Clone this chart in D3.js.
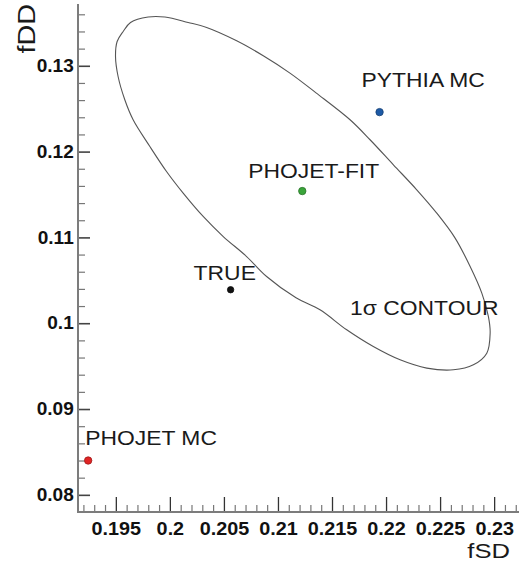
<!DOCTYPE html>
<html>
<head>
<meta charset="utf-8">
<script src="https://cdn.jsdelivr.net/npm/d3@7"></script>
<style>
  html, body { margin: 0; padding: 0; background: #fff; }
  svg { display: block; }
  text { font-family: "Liberation Sans", Arial, Helvetica, sans-serif; fill: #1a1a1a; }
</style>
</head>
<body>
<svg id="chart" width="520" height="567"></svg>
<script>
// Model points in the (fSD, fDD) plane
const names = ["PHOJET MC", "TRUE", "PHOJET-FIT", "PYTHIA MC"];
const fSD = [0.19244, 0.20562, 0.21225, 0.2194];
const fDD = [0.0840, 0.1039, 0.1154, 0.1246];
const colors = ["#e02424", "#111111", "#3aa53a", "#1d5aa6"];

// 1-sigma contour of the fit, traced clockwise from the top
const contourSD = [0.19799, 0.19954, 0.20169, 0.20340, 0.20618, 0.20864, 0.21111, 0.21352,
  0.21667, 0.21852, 0.22068, 0.22284, 0.22469, 0.22639, 0.22778, 0.22886, 0.22947, 0.22963,
  0.22932, 0.22808, 0.22623, 0.22377, 0.22130, 0.21882, 0.21636, 0.21389, 0.21167, 0.20895,
  0.20710, 0.20494, 0.20308, 0.20123, 0.19969, 0.19815, 0.19660, 0.19583, 0.19521, 0.19497,
  0.19512, 0.19568, 0.19636];
const contourDD = [0.13568, 0.13568, 0.13505, 0.13446, 0.13291, 0.13117, 0.12915, 0.12685,
  0.12371, 0.12138, 0.11846, 0.11555, 0.11283, 0.10992, 0.10661, 0.10351, 0.10078, 0.09885,
  0.09651, 0.09515, 0.09457, 0.09477, 0.09573, 0.09728, 0.09923, 0.10156, 0.10296, 0.10544,
  0.10777, 0.11010, 0.11244, 0.11516, 0.11768, 0.12059, 0.12371, 0.12604, 0.12875, 0.13108,
  0.13283, 0.13400, 0.13505];
const contourLabel = "1σ CONTOUR";
const contourLabelAt = [0.21667, 0.10098];

// Axes
const xTicks = [0.195, 0.2, 0.205, 0.21, 0.215, 0.22, 0.225, 0.23];
const xTickLabels = ["0.195", "0.2", "0.205", "0.21", "0.215", "0.22", "0.225", "0.23"];
const yTicks = [0.08, 0.09, 0.1, 0.11, 0.12, 0.13];
const yTickLabels = ["0.08", "0.09", "0.1", "0.11", "0.12", "0.13"];
const xTitle = "fSD";
const yTitle = "fDD";

// Label placement relative to each marker (pixels)
const labelOffset = [[-3, -16], [-37, -10], [-54, -13], [-18, -25]];

const svg = d3.select("#chart");
const FONT_STRETCH = 1.09;

const x = d3.scaleLinear().domain([0.1915, 0.2323]).range([78, 519]);
const y = d3.scaleLinear().domain([0.078, 0.1372]).range([512, 4]);

const xMinor = d3.range(192, 233).map(v => v / 1000).filter(v => !xTicks.some(t => Math.abs(t - v) < 1e-9));
const yMinor = d3.range(40, 69).map(v => v / 500).filter(v => !yTicks.some(t => Math.abs(t - v) < 1e-9));

// minor ticks
svg.append("g")
  .attr("transform", `translate(0,${y.range()[0]})`)
  .call(d3.axisBottom(x).tickValues(xMinor).tickSize(-7).tickFormat(""))
  .call(g => g.select(".domain").remove())
  .call(g => g.selectAll("line").attr("stroke", "#777").attr("stroke-width", 1.2));
svg.append("g")
  .attr("transform", `translate(${x.range()[0]},0)`)
  .call(d3.axisLeft(y).tickValues(yMinor).tickSize(-7).tickFormat(""))
  .call(g => g.select(".domain").remove())
  .call(g => g.selectAll("line").attr("stroke", "#777").attr("stroke-width", 1.2));

// major ticks with labels
svg.append("g")
  .attr("transform", `translate(0,${y.range()[0]})`)
  .call(d3.axisBottom(x).tickValues(xTicks).tickSize(-15).tickPadding(10)
    .tickFormat((d, i) => xTickLabels[i]))
  .call(g => g.select(".domain").remove())
  .call(g => g.selectAll("line").attr("stroke", "#333").attr("stroke-width", 1.3))
  .call(g => g.selectAll("text")
    .attr("fill", "#111").style("fill", "#111")
    .attr("font-size", 18).attr("font-weight", "bold")
    .attr("font-family", null)
    .attr("transform", `scale(1.1,1)`));

svg.append("g")
  .attr("transform", `translate(${x.range()[0]},0)`)
  .call(d3.axisLeft(y).tickValues(yTicks).tickSize(-12).tickPadding(4)
    .tickFormat((d, i) => yTickLabels[i]))
  .call(g => g.select(".domain").remove())
  .call(g => g.selectAll("line").attr("stroke", "#444").attr("stroke-width", 1.6))
  .call(g => g.selectAll("text")
    .attr("fill", "#111").style("fill", "#111")
    .attr("font-size", 18).attr("font-weight", "bold")
    .attr("font-family", null)
    .attr("transform", `scale(1.06,1)`));

// axis lines
svg.append("line")
  .attr("x1", x.range()[0]).attr("x2", x.range()[1])
  .attr("y1", y.range()[0]).attr("y2", y.range()[0])
  .attr("stroke", "#7c7c7c").attr("stroke-width", 2);
svg.append("line")
  .attr("x1", x.range()[0]).attr("x2", x.range()[0])
  .attr("y1", y.range()[0] + 1).attr("y2", y.range()[1])
  .attr("stroke", "#7c7c7c").attr("stroke-width", 2);

// axis titles
svg.append("text")
  .attr("transform", `translate(510,558) scale(1.22,1)`)
  .attr("text-anchor", "end")
  .attr("font-size", 21)
  .text(xTitle);
svg.append("text")
  .attr("transform", `translate(35,4) rotate(-90) scale(1.25,1)`)
  .attr("text-anchor", "end")
  .attr("font-size", 23)
  .text(yTitle);

// contour
const contour = contourSD.map((v, i) => [v, contourDD[i]]);
svg.append("path")
  .datum(contour)
  .attr("fill", "none")
  .attr("stroke", "#555")
  .attr("stroke-width", 1.1)
  .attr("d", d3.line().x(d => x(d[0])).y(d => y(d[1])).curve(d3.curveCatmullRomClosed.alpha(0.5)));

svg.append("text")
  .attr("transform", `translate(${x(contourLabelAt[0])},${y(contourLabelAt[1])}) scale(${FONT_STRETCH},1)`)
  .attr("font-size", 21)
  .text(contourLabel);

// markers and their labels
const pts = names.map((n, i) => ({ name: n, sd: fSD[i], dd: fDD[i], color: colors[i], off: labelOffset[i] }));

svg.append("g").selectAll("circle")
  .data(pts)
  .join("circle")
  .attr("cx", d => x(d.sd))
  .attr("cy", d => y(d.dd))
  .attr("r", d => d.name === "TRUE" ? 3.2 : 3.7)
  .attr("fill", d => d.color)
  .attr("stroke", d => d3.color(d.color).darker(1))
  .attr("stroke-width", 0.8);

svg.append("g").selectAll("text")
  .data(pts)
  .join("text")
  .attr("transform", d => `translate(${x(d.sd) + d.off[0]},${y(d.dd) + d.off[1]}) scale(${FONT_STRETCH},1)`)
  .attr("font-size", 21)
  .text(d => d.name);
</script>
</body>
</html>
